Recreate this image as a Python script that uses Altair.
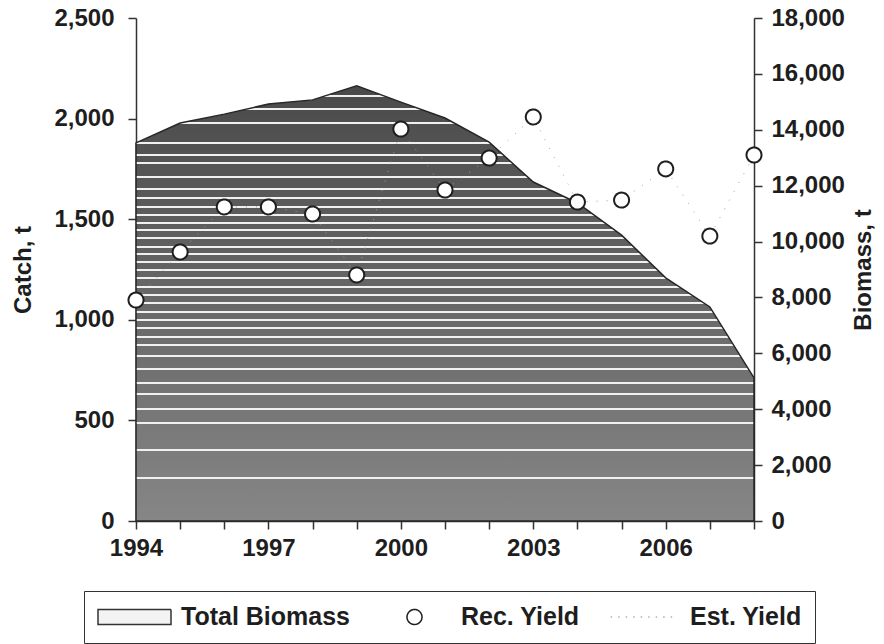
import altair as alt
import pandas as pd

# ---------------- data ----------------
years = list(range(1994, 2009))
biomass = [13530, 14240, 14560, 14920, 15070, 15570, 14990, 14420,
           13560, 12130, 11380, 10230, 8700, 7660, 5120]
rec_yield = [1098, 1337, 1561, 1561, 1526, 1223, 1948, 1645,
             1804, 2008, 1585, 1595, 1750, 1416, 1819]
est_yield = [1098, 1337, 1561, 1561, 1526, 1223, 1948, 1645,
             1804, 2008, 1585, 1595, 1750, 1416, 1819]
series_names = ["Total Biomass", "Rec. Yield", "Est. Yield"]
catch_ticks = [0, 500, 1000, 1500, 2000, 2500]
biomass_ticks = [0, 2000, 4000, 6000, 8000, 10000, 12000, 14000, 16000, 18000]

# ---------------- style ----------------
FONT = "Liberation Sans"
TXT = "#1e1e1e"
AX = "#333333"
PLOT_W, PLOT_H = 618, 503
CATCH_MAX, BIO_MAX = 2500, 18000

# white stripe texture of the biomass fill (pixels from plot top)
stripe_px = [78, 91, 105, 125, 137, 145, 159, 171, 180, 189, 197, 205, 212,
             220, 229, 236, 244, 252, 260, 269, 277, 285, 294, 302, 310, 319,
             327, 338, 351, 365, 376, 391, 405, 432, 460]
area_top = PLOT_H * (1 - max(biomass) / BIO_MAX)
span = PLOT_H - area_top


def band(off):
    v = int(round(0x4a + (0x86 - 0x4a) * off))
    return "#%02x%02x%02x" % (v, v, v)


stops = [{"offset": 0, "color": band(0)}]
for s in stripe_px:
    a = max(0.0, (s - 1 - area_top) / span)
    b = min(1.0, (s + 1 - area_top) / span)
    stops += [{"offset": a, "color": band(a)},
              {"offset": a, "color": "#f0f0f0"},
              {"offset": b, "color": "#f0f0f0"},
              {"offset": b, "color": band(b)}]
stops.append({"offset": 1, "color": band(1)})
grad = {"gradient": "linear", "x1": 0, "y1": 0, "x2": 0, "y2": 1, "stops": stops}

SYM = 5329  # 73 px wide legend symbols
r = 0.2055
rect_path = "M-1,-0.205L1,-0.205L1,0.205L-1,0.205Z"
circle_path = f"M-{r},0A{r},{r} 0 1,0 {r},0A{r},{r} 0 1,0 -{r},0Z"
dash_path = "M-0.9,0L0.9,0"

df = pd.DataFrame({"year": years, "biomass": biomass, "rec": rec_yield,
                   "est": est_yield, "series": "Rec. Yield"})

x_scale = alt.Scale(domain=[1994, 2008], nice=False, zero=False)
catch_scale = alt.Scale(domain=[0, CATCH_MAX], nice=False)

axis_common = dict(
    labelFont=FONT, labelFontSize=24, labelFontWeight="bold", labelColor=TXT,
    titleFont=FONT, titleFontSize=24, titleFontWeight="bold", titleColor=TXT,
    tickSize=8, tickColor=AX, tickWidth=1.5, domainColor=AX, domainWidth=1.5,
    grid=False,
)


def x_axis():
    return alt.Axis(values=years, format="d",
                    labelExpr="(datum.value - 1994) % 3 == 0 ? datum.label : ''",
                    title="", labelPadding=7, labelFlush=False, **axis_common)


def catch_axis():
    return alt.Axis(orient="left", values=catch_ticks, format=",.0f",
                    title="Catch, t", labelPadding=14, titlePadding=18,
                    **axis_common)


area = alt.Chart(df).mark_area(
    fill=grad, stroke="#262626", strokeWidth=1.5, opacity=1
).encode(
    x=alt.X("year:Q", scale=x_scale, axis=x_axis()),
    y=alt.Y("biomass:Q", scale=alt.Scale(domain=[0, BIO_MAX], nice=False),
            axis=alt.Axis(orient="right", values=biomass_ticks, format=",.0f",
                          title="Biomass, t", titleAngle=270, labelPadding=9,
                          titlePadding=31, **axis_common)),
)

line = alt.Chart(df).mark_line(
    color="#a0a0a0", strokeWidth=1, strokeDash=[1, 9]
).encode(
    x=alt.X("year:Q", scale=x_scale, axis=x_axis()),
    y=alt.Y("est:Q", scale=catch_scale, axis=catch_axis(), title="Catch, t"),
)

legend = alt.Legend(
    title=None, orient="none", legendX=-52, legendY=573, direction="horizontal",
    columns=3, gridAlign="each", columnPadding=26, labelOffset=9,
    labelFont=FONT, labelFontSize=25, labelFontWeight="bold", labelColor=TXT,
    labelLimit=400, padding=13, strokeColor=AX, symbolSize=SYM,
    symbolStrokeWidth=1.5, clipHeight=26,
)

points = alt.Chart(df).mark_point(
    size=SYM, strokeWidth=2, opacity=1, filled=True
).encode(
    x=alt.X("year:Q", scale=x_scale, axis=x_axis()),
    y=alt.Y("rec:Q", scale=catch_scale, axis=catch_axis(), title="Catch, t"),
    shape=alt.Shape("series:N", scale=alt.Scale(domain=series_names,
                    range=[rect_path, circle_path, dash_path]), legend=legend),
    fill=alt.Fill("series:N", scale=alt.Scale(domain=series_names,
                  range=["#f3f3f3", "#ffffff", "transparent"]), legend=legend),
    stroke=alt.Stroke("series:N", scale=alt.Scale(domain=series_names,
                      range=["#333333", "#1e1e1e", "#b0b0b0"]), legend=legend),
    strokeDash=alt.StrokeDash("series:N", scale=alt.Scale(domain=series_names,
                              range=[[1, 0], [1, 0], [1.5, 6]]), legend=legend),
)

inner = alt.layer(line, points)
chart = alt.layer(area, inner).resolve_scale(y="independent").properties(
    width=PLOT_W, height=PLOT_H,
    autosize=alt.AutoSizeParams(type="none"),
    padding={"left": 128, "top": 10, "right": 122, "bottom": 123},
).configure_view(stroke=None)

chart.save("out.html", embed_options={"renderer": "svg", "actions": False})
